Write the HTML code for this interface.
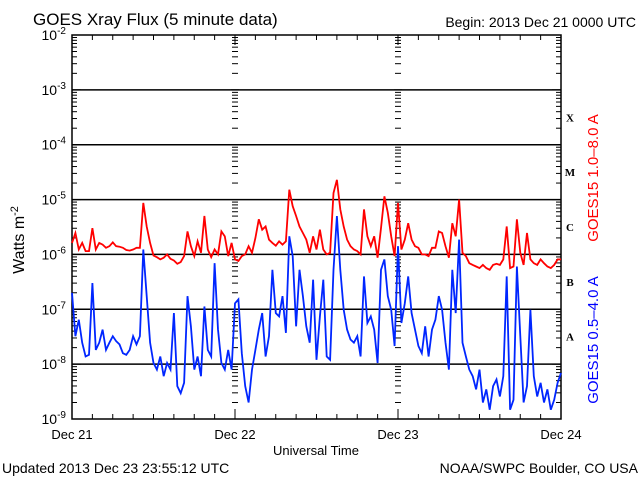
<!DOCTYPE html>
<html><head><meta charset="utf-8"><style>
body{margin:0;background:#fff}
svg{display:block;font-family:"Liberation Sans",sans-serif}
</style></head><body>
<svg id="c" width="640" height="480" viewBox="0 0 640 480">
<text x="33" y="25" font-size="17">GOES Xray Flux (5 minute data)</text>
<text x="636" y="27" font-size="14" text-anchor="end">Begin:  2013 Dec 21 0000 UTC</text>
<text transform="translate(24,240) rotate(-90)" font-size="16" text-anchor="middle">Watts m<tspan dy="-6" font-size="11">-2</tspan></text>
<text x="316" y="455" font-size="13" text-anchor="middle">Universal Time</text>
<text x="2" y="473" font-size="14">Updated 2013 Dec 23 23:55:12 UTC</text>
<text x="638" y="473" font-size="14" text-anchor="end">NOAA/SWPC Boulder, CO USA</text>
<text transform="translate(598,178) rotate(-90)" font-size="15" fill="#f00" text-anchor="middle">GOES15 1.0–8.0 A</text>
<text transform="translate(598,340) rotate(-90)" font-size="15" fill="#00f" text-anchor="middle">GOES15 0.5–4.0 A</text>
<g id="grid"></g><g id="ticks" stroke="#000" stroke-width="1"></g><g id="labels"></g><g id="series"></g>
</svg>
<script>
const dayLabels=["Dec 21","Dec 22","Dec 23","Dec 24"];
const decades=[-2,-3,-4,-5,-6,-7,-8,-9];
const classes=["X","M","C","B","A"];
const classLogs=[-3.5,-4.5,-5.5,-6.5,-7.5];
const longFlux=[-5.79,-5.61,-5.91,-5.79,-5.94,-5.94,-5.52,-5.91,-5.79,-5.82,-5.88,-5.85,-5.78,-5.85,-5.86,-5.88,-5.92,-5.93,-5.91,-5.88,-5.88,-5.06,-5.49,-5.79,-6.02,-6.05,-6.09,-6.06,-6.0,-6.08,-6.11,-6.17,-6.14,-6.03,-5.58,-5.85,-6.03,
-5.76,-5.97,-5.3,-5.91,-6.05,-5.91,-6.0,-5.58,-5.67,-6.03,-5.79,-6.09,-6.12,-6.03,-6.0,-5.85,-5.97,-5.7,-5.36,-5.55,-5.49,-5.73,-5.79,-5.84,-5.76,-5.82,-5.76,-4.82,-5.12,-5.3,-5.49,-5.61,-5.73,-5.97,
-5.67,-5.91,-5.55,-5.91,-6.0,-5.97,-4.88,-4.64,-5.18,-5.49,-5.73,-5.85,-5.91,-5.94,-6.0,-5.18,-5.67,-5.85,-5.67,-6.06,-5.52,-4.94,-5.24,-5.67,-6.03,-5.06,-5.91,-5.73,-5.43,-5.73,-5.85,-5.88,-6.0,-6.0,-6.03,-5.88,
-5.88,-5.58,-5.61,-5.85,-6.06,-5.43,-5.67,-5.0,-5.97,-6.03,-6.16,-6.19,-6.22,-6.25,-6.19,-6.25,-6.28,-6.19,-6.17,-6.19,-6.09,-5.49,-6.25,-6.22,-5.36,-5.97,-6.19,-5.61,-6.09,-6.16,-6.19,-6.09,-6.16,-6.22,-6.25,-6.19,-6.09,-6.09];
const shortFlux=[-6.7,-7.49,-7.19,-7.61,-7.86,-7.83,-6.52,-7.74,-7.61,-7.37,-7.74,-7.61,-7.49,-7.58,-7.64,-7.8,-7.83,-7.74,-7.49,-7.64,-7.49,-5.91,-6.76,-7.61,-7.98,-8.1,-7.86,-8.22,-7.98,-8.1,-7.07,-8.4,-8.53,-8.34,-6.76,-7.31,-8.1,
-7.86,-8.22,-6.95,-7.74,-7.86,-6.16,-7.37,-7.98,-8.1,-7.74,-8.1,-6.89,-6.82,-7.8,-8.4,-8.7,-8.1,-7.74,-7.37,-7.07,-7.86,-7.49,-6.28,-7.07,-7.13,-6.76,-7.43,-5.67,-6.03,-7.31,-6.28,-6.76,-7.31,-7.61,
-6.46,-7.92,-7.13,-6.46,-7.86,-7.92,-6.28,-5.3,-6.28,-7.01,-7.37,-7.55,-7.61,-7.49,-7.86,-6.4,-7.25,-7.13,-7.37,-7.98,-6.28,-6.09,-6.76,-7.01,-7.67,-5.85,-7.25,-6.89,-6.4,-7.07,-7.37,-7.67,-7.8,-7.31,-7.86,-7.37,
-7.19,-6.76,-7.01,-7.61,-8.1,-6.28,-7.07,-5.73,-7.61,-7.86,-8.1,-8.22,-8.46,-8.1,-8.7,-8.46,-8.83,-8.4,-8.28,-8.59,-8.22,-6.4,-8.83,-8.65,-6.22,-7.49,-8.7,-8.4,-7.01,-8.22,-8.59,-8.34,-8.7,-8.46,-8.83,-8.65,-8.34,-8.16];
const NS="http://www.w3.org/2000/svg";
const L=72,R=561,T=35,B=419;
function xs(h){return L+(R-L)*h/72;}
function ys(v){return B-(B-T)*(v+9)/7;}
function mk(tag,attrs,parent){const e=document.createElementNS(NS,tag);for(const k in attrs)e.setAttribute(k,attrs[k]);document.getElementById(parent).appendChild(e);return e;}
let f=mk('rect',{x:L,y:T,width:R-L,height:B-T,fill:'none',stroke:'#000','stroke-width':1.5},'grid');


decades.forEach(d=>{
  if(d!==-2&&d!==-9){let g=mk('line',{x1:L,x2:R,y1:ys(d),y2:ys(d),stroke:'#000','stroke-width':1.5},'grid');
  
  }
  let t=mk('text',{x:66,y:ys(d)+5,'font-size':14,'text-anchor':'end'},'labels');
  
  
  t.innerHTML='10<tspan dy="-6" font-size="10">'+d+'</tspan>';
  if(d>-9){for(let m=2;m<=9;m++){const y=ys(d-1+Math.log10(m));
    [[L,L+5],[R-5,R],[xs(24)-3,xs(24)+3],[xs(48)-3,xs(48)+3]].forEach(p=>mk('line',{x1:p[0],x2:p[1],y1:y,y2:y},'ticks'));}}
  [[L,L+9],[R-9,R],[xs(24)-4,xs(24)+4],[xs(48)-4,xs(48)+4]].forEach(p=>mk('line',{x1:p[0],x2:p[1],y1:ys(d),y2:ys(d)},'ticks'));
});
for(let h=3;h<72;h+=3){const x=xs(h),len=h%24==0?10:5;
  mk('line',{x1:x,x2:x,y1:T,y2:T+len},'ticks');mk('line',{x1:x,x2:x,y1:B,y2:B-len},'ticks');}
dayLabels.forEach((s,i)=>{let t=mk('text',{x:xs(i*24),y:439,'font-size':13,'text-anchor':'middle'},'labels');
  
  
  t.textContent=s;});
classes.forEach((c,i)=>{let t=mk('text',{x:570,y:ys(classLogs[i])+4,'font-size':11,'font-weight':'bold','font-family':'Liberation Serif, serif','text-anchor':'middle'},'labels');
  
  
  t.textContent=c;});
function line(arr,col,name){const n=arr.length-1;
  const pts=arr.map((v,i)=>xs(i*72/n).toFixed(1)+','+ys(v).toFixed(1)).join(' ');
  let p=mk('polyline',{points:pts,fill:'none',stroke:col,'stroke-width':1.8,'stroke-linejoin':'miter'},'series');
  
  }
line(longFlux,'#f00','long-channel-series');
line(shortFlux,'#0026ff','short-channel-series');
</script>
</body></html>
